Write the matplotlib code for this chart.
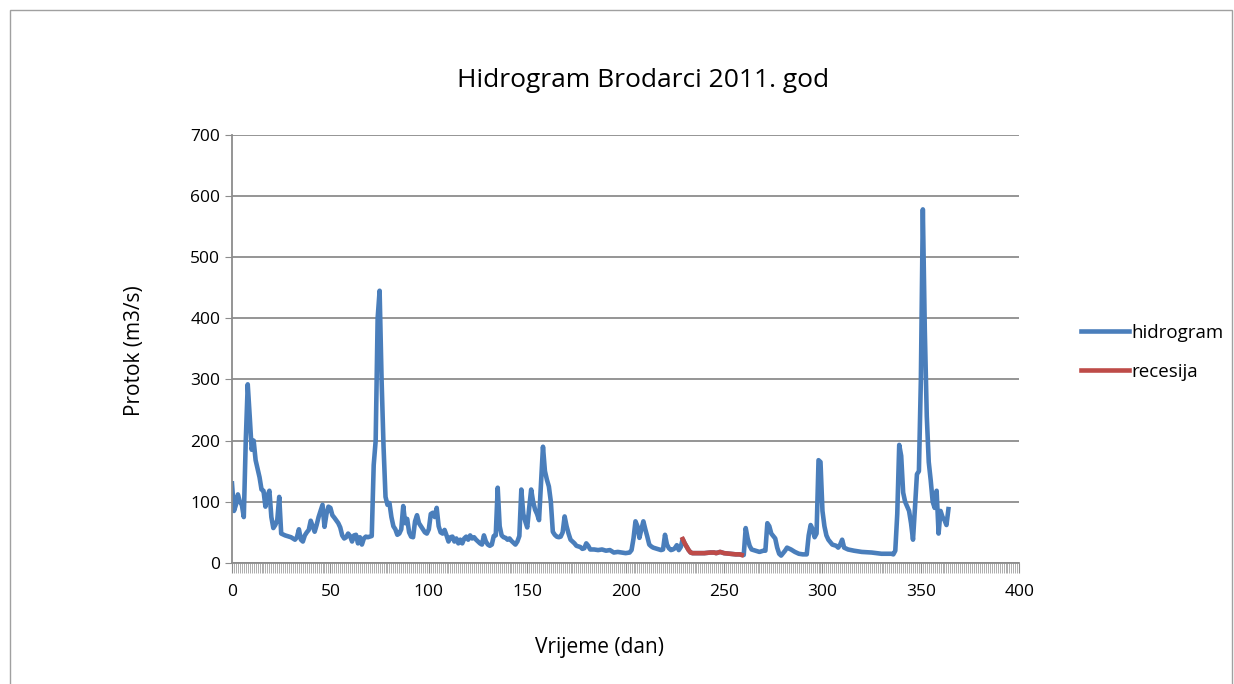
import matplotlib.pyplot as plt
from matplotlib.patches import Rectangle
from matplotlib.ticker import MultipleLocator

# hidrogram - dan i protok (ocitano sa slike)
dani = [0, 1, 2, 3, 4, 5, 6, 7, 8, 9, 10, 11, 12, 14, 15, 16, 17, 18, 19, 20,
        21, 22, 23, 24, 25, 27, 30, 32, 33, 34, 35, 36, 37, 38, 39, 40, 41, 42,
        43, 44, 45, 46, 47, 48, 49, 50, 51, 52, 54, 55, 56, 57, 58, 59, 60, 61,
        62, 63, 64, 65, 66, 67, 68, 69, 70, 71, 72, 73, 74, 75, 76, 77, 78, 79,
        80, 81, 82, 83, 84, 85, 86, 87, 88, 89, 90, 91, 92, 93, 94, 95, 96, 97,
        98, 99, 100, 101, 102, 103, 104, 105, 106, 107, 108, 109, 110, 111,
        112, 113, 114, 115, 116, 117, 118, 119, 120, 121, 122, 123, 124, 125,
        126, 127, 128, 129, 130, 131, 132, 133, 134, 135, 136, 137, 138, 139,
        140, 141, 142, 143, 144, 145, 146, 147, 148, 149, 150, 151, 152, 153,
        154, 155, 156, 157, 158, 159, 160, 161, 162, 163, 164, 165, 166, 167,
        168, 169, 170, 171, 172, 173, 174, 175, 176, 177, 178, 179, 180, 181,
        182, 184, 186, 188, 190, 192, 194, 196, 198, 200, 202, 203, 204, 205,
        206, 207, 208, 209, 210, 211, 212, 213, 214, 216, 218, 219, 220, 221,
        222, 223, 224, 225, 226, 227, 228, 229, 230, 232, 233, 234, 236, 238,
        240, 243, 245, 246, 248, 250, 253, 256, 258, 259, 260,
        261, 262, 263, 264, 266, 268, 270, 271, 272, 273, 274, 276, 277, 278,
        279, 281, 282, 284, 286, 288, 290, 292, 293, 294, 295, 296, 297, 298,
        299, 300, 301, 302, 303, 305, 307, 308, 309, 310, 311, 313, 316, 320,
        325, 330, 335, 336, 337, 338, 339, 340, 341, 342, 344, 345, 346, 347,
        348, 349, 350, 351, 352, 353, 354, 355, 356, 357, 358, 359, 360, 361,
        362, 363, 364]
protok = [130, 85, 95, 112, 100, 95, 75, 200, 292, 240, 185, 200, 168, 140,
          120, 118, 92, 110, 118, 75, 57, 62, 70, 108, 48, 45, 42, 38, 42, 55,
          38, 35, 45, 50, 54, 69, 60, 51, 62, 75, 85, 95, 59, 80, 92, 90, 78,
          74, 65, 58, 45, 40, 42, 48, 44, 35, 45, 46, 32, 42, 30, 40, 43, 42,
          43, 44, 160, 200, 400, 445, 300, 190, 108, 95, 98, 75, 60, 55, 46, 48,
          55, 93, 65, 72, 50, 43, 42, 68, 78, 65, 60, 55, 50, 48, 55, 80, 82,
          75, 90, 60, 50, 48, 54, 45, 35, 42, 43, 35, 40, 32, 38, 32, 40, 43,
          38, 45, 40, 42, 38, 35, 32, 30, 45, 35, 30, 28, 30, 44, 45, 123, 60,
          45, 42, 41, 38, 40, 36, 33, 30, 35, 44, 120, 80, 68, 58, 90, 120, 100,
          87, 80, 70, 130, 190, 150, 136, 125, 100, 51, 46, 43, 42, 43, 50, 76,
          60, 48, 38, 35, 32, 28, 27, 26, 23, 24, 32, 28, 22, 22, 21, 22, 20,
          21, 17, 18, 17, 16, 17, 21, 40, 68, 60, 41, 55, 68, 55, 43, 30, 27,
          25, 23, 21, 22, 46, 30, 24, 21, 22, 24, 29, 21, 26, 39, 32, 21, 17,
          16, 16, 16, 16, 17, 17, 16, 18, 16, 15, 14, 14, 13, 13,
          57, 40, 28, 22, 20, 18, 20, 20, 65, 60, 48, 40, 25, 15,
          12, 20, 25, 22, 18, 15, 14, 14, 45, 62, 55, 42, 48, 168, 165, 85, 60,
          45, 38, 30, 28, 25, 30, 38, 25, 22, 20, 18, 17, 15, 15, 14, 20, 80,
          193, 175, 115, 100, 85, 65, 38, 90, 145, 150, 300, 578, 380, 240,
          165, 135, 100, 90, 118, 48, 85, 75, 70, 62, 88]

# recesija
dani_rec = [229, 230, 232, 233, 234, 236, 238, 240, 243, 245, 246, 248, 250,
            253, 256, 258, 259]
protok_rec = [39, 32, 21, 17, 16, 16, 16, 16, 17, 17, 16, 18, 16, 15, 14, 14, 13]

plt.rcParams['font.family'] = ['Open Sans', 'DejaVu Sans']

fig = plt.figure(figsize=(12.34, 6.84), dpi=100)
ax = fig.add_axes([0.188, 0.177, 0.638, 0.626])

# okvir grafikona
fig.patches.append(Rectangle((0.008, -0.02), 0.99, 1.005, transform=fig.transFigure,
                             fill=False, edgecolor="#a0a0a0", linewidth=1))

ax.plot(dani, protok, color="#4a7ebb", linewidth=3.3, label="hidrogram",
        solid_joinstyle="round")
ax.plot(dani_rec, protok_rec, color="#be4b48", linewidth=3.3, label="recesija",
        solid_joinstyle="round")

ax.set_xlim(0, 400)
ax.set_ylim(0, 700)
ax.xaxis.set_major_locator(MultipleLocator(50))
ax.xaxis.set_minor_locator(MultipleLocator(1))
ax.yaxis.set_major_locator(MultipleLocator(100))
ax.grid(axis="y", color="#8c8c8c", linewidth=1.3)
ax.set_axisbelow(True)
for s in ["top", "right"]:
    ax.spines[s].set_visible(False)
for s in ["left", "bottom"]:
    ax.spines[s].set_color("#8c8c8c")
    ax.spines[s].set_linewidth(1.3)
ax.tick_params(axis="x", which="major", length=7, color="#8c8c8c", labelsize=12.5,
               pad=8)
ax.tick_params(axis="x", which="minor", length=7, color="#a0a0a0", width=0.6)
ax.tick_params(axis="y", length=5, color="#8c8c8c", labelsize=12.5)

fig.text(0.521, 0.883, "Hidrogram Brodarci 2011. god", ha="center", va="center",
         fontsize=19)
fig.text(0.486, 0.054, "Vrijeme (dan)", ha="center", va="center", fontsize=15)
fig.text(0.109, 0.488, "Protok (m3/s)", ha="center", va="center", fontsize=15,
         rotation=90)

fig.legend(loc="center left", bbox_to_anchor=(0.862, 0.485), frameon=False,
           fontsize=13.5, handlelength=2.6, handletextpad=0.1, labelspacing=1.1)

plt.savefig("out.png")
